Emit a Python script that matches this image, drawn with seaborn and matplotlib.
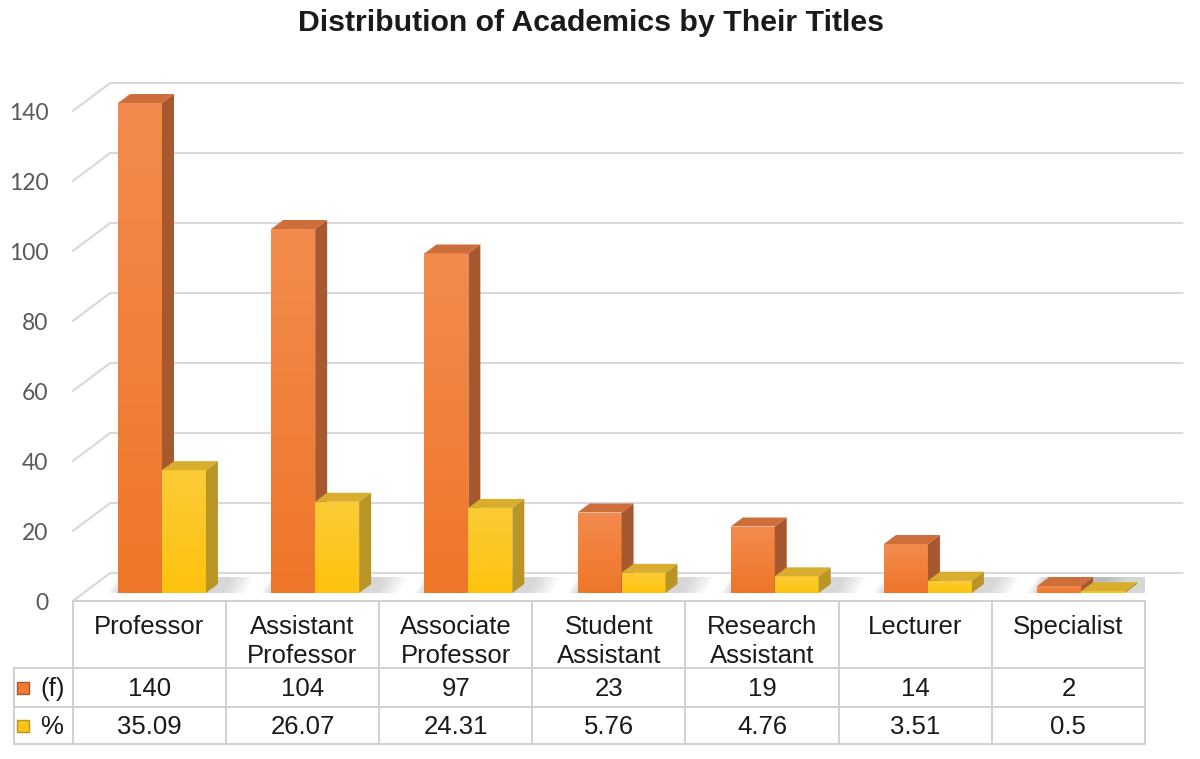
import numpy as np
import pandas as pd
import matplotlib
matplotlib.use("Agg")
import matplotlib.pyplot as plt
import seaborn as sns
from matplotlib.patches import Polygon, Rectangle
from matplotlib.lines import Line2D
from matplotlib.colors import to_rgb
from matplotlib.transforms import ScaledTranslation

# ---------------- data ----------------
titles = ["Professor", "Assistant\nProfessor", "Associate\nProfessor",
          "Student\nAssistant", "Research\nAssistant", "Lecturer", "Specialist"]
freq = [140, 104, 97, 23, 19, 14, 2]
pct = [35.09, 26.07, 24.31, 5.76, 4.76, 3.51, 0.5]
pct_labels = ["35.09", "26.07", "24.31", "5.76", "4.76", "3.51", "0.5"]
series = ["(f)", "%"]
yticks = [0, 20, 40, 60, 80, 100, 120, 140]
chart_title = "Distribution of Academics by Their Titles"

df = pd.DataFrame({
    "title": titles * 2,
    "value": freq + pct,
    "series": [series[0]] * len(titles) + [series[1]] * len(titles),
})

# ---------------- style ----------------
sns.set_theme(style="white")
plt.rcParams["font.family"] = ["Liberation Sans", "DejaVu Sans"]

W, H = 1200, 759
ORANGE = "#F07C34"
ORANGE_LIGHT = "#F38B4E"
ORANGE_DARK = "#EE7628"
ORANGE_SIDE = "#A8582E"
ORANGE_TOP = "#CD6E3B"
YELLOW = "#FCC416"
YELLOW_LIGHT = "#FCCB36"
YELLOW_DARK = "#FEC30E"
YELLOW_SIDE = "#B99526"
YELLOW_TOP = "#D9AE2E"
GRID = "#D9D9D9"
TABLE = "#D0D0D0"

fig = plt.figure(figsize=(W / 100, H / 100), dpi=100)
fig.patch.set_facecolor("white")

LEFT, RIGHT = 72.7, 1145.0
ZERO_Y, TOP_Y = 593.0, 68.0
ax = fig.add_axes([LEFT / W, (H - ZERO_Y) / H, (RIGHT - LEFT) / W, (ZERO_Y - TOP_Y) / H])
ax.set_facecolor("none")

sns.barplot(data=df, x="title", y="value", hue="series",
            palette=[ORANGE, YELLOW], width=0.574, gap=0, saturation=1,
            legend=False, ax=ax, linewidth=0)

shift = 12.7 / ((RIGHT - LEFT) / 7)
XL, XR = -0.5 - shift, 6.5 - shift


def set_limits():
    ax.set_xlim(XL, XR)
    ax.set_ylim(0, 150)


set_limits()
for s in ax.spines.values():
    s.set_visible(False)
ax.set_xticks([])
ax.set_xlabel("")
ax.set_ylabel("")
ax.set_yticks(yticks)
ax.tick_params(axis="y", length=0, pad=17.5, labelsize=16.5, labelcolor="#595959")
for lab in ax.get_yticklabels():
    lab.set_fontfamily(["Lato", "DejaVu Sans"])
    lab.set_transform(lab.get_transform() + ScaledTranslation(0, -0.09, fig.dpi_scale_trans))

inv = fig.transFigure.inverted()


def P(xd, yd, dx=0.0, dy=0.0):
    """data point -> figure fraction, with pixel offsets (dy positive = down)"""
    d = ax.transData.transform((xd, yd))
    return tuple(inv.transform((d[0] + dx, d[1] - dy)))


def F(x, y):
    return (x / W, 1 - y / H)


DX, DY = 37.5, 28.0  # back wall offset

# gridlines with 3D slant (behind the axes content)
for v in yticks:
    pts = [P(XL, v, 0, 8), P(XL, v, DX, 8 - DY), P(XR, v, DX, 8 - DY)]
    fig.add_artist(Line2D([p[0] for p in pts], [p[1] for p in pts],
                          color=GRID, lw=1.5, zorder=-1))

# 3D bar faces, gradients and shadows
n = len(titles)
bdx, bdy = 12.0, 9.0
patches = list(ax.patches)
for i, p in enumerate(patches):
    hue_i = i // n
    xb, wb, hb = p.get_x(), p.get_width(), p.get_height()
    base_z = 2 + hue_i * 2
    p.set_zorder(base_z)
    light = ORANGE_LIGHT if hue_i == 0 else YELLOW_LIGHT
    dark = ORANGE_DARK if hue_i == 0 else YELLOW_DARK
    side_c = ORANGE_SIDE if hue_i == 0 else YELLOW_SIDE
    top_c = ORANGE_TOP if hue_i == 0 else YELLOW_TOP
    # gentle vertical gradient on the front face (lighter at top)
    c1, c2 = np.array(to_rgb(light)), np.array(to_rgb(dark))
    t = np.linspace(0, 1, 64)[:, None]
    grad = (c1 * (1 - t) + c2 * t)[:, None, :]
    img = np.repeat(grad, 2, axis=1)
    im = ax.imshow(img, extent=[xb, xb + wb, 0, hb], aspect="auto",
                   origin="upper", zorder=base_z + 0.1, interpolation="bilinear")
    im.set_clip_path(p)
    side = Polygon([P(xb + wb, 0), P(xb + wb, hb), P(xb + wb, hb, bdx, -bdy),
                    P(xb + wb, 0, bdx, -bdy)], closed=True,
                   transform=fig.transFigure, facecolor=side_c, edgecolor="none",
                   zorder=base_z + 0.5)
    top = Polygon([P(xb, hb), P(xb + wb, hb), P(xb + wb, hb, bdx, -bdy),
                   P(xb, hb, bdx, -bdy)], closed=True,
                  transform=fig.transFigure, facecolor=top_c, edgecolor="none",
                  zorder=base_z + 0.5)
    ax.add_artist(side)
    ax.add_artist(top)
    # soft floor shadow behind/right of each bar
    for k in range(6):
        e = 3 + k * 4
        sh = Polygon([P(xb, 0, -e * 0.5, 2), P(xb + wb, 0, 14 + e, 2),
                      P(xb + wb, 0, 14 + e + 10, -16), P(xb, 0, 8 - e * 0.3, -16)],
                     closed=True, transform=fig.transFigure, facecolor="#7F7F7F",
                     alpha=0.055, edgecolor="none", zorder=1)
        ax.add_artist(sh)

set_limits()

# ---------------- title ----------------
fig.text(591 / W, 1 - 23 / H, chart_title, ha="center", va="center",
         fontsize=21.8, fontweight="bold", color="#1A1A1A")

# ---------------- data table ----------------
col_w = (RIGHT - LEFT) / n
LBL_L = 14.0
HDR_T, HDR_B, R1_B, R2_B = 601.0, 668.0, 706.5, 744.0


def hline(xa, xb_, y):
    fig.add_artist(Line2D([xa / W, xb_ / W], [1 - y / H, 1 - y / H], color=TABLE, lw=1.4))


def vline(x, ya, yb):
    fig.add_artist(Line2D([x / W, x / W], [1 - ya / H, 1 - yb / H], color=TABLE, lw=1.4))


hline(LEFT, RIGHT, HDR_T)
hline(LBL_L, RIGHT, HDR_B)
hline(LBL_L, RIGHT, R1_B)
hline(LBL_L, RIGHT, R2_B)
for j in range(n + 1):
    vline(LEFT + j * col_w, HDR_T, R2_B)
vline(LBL_L, HDR_B, R2_B)

TFS = 18.5
for j, t in enumerate(titles):
    cx = LEFT + (j + 0.5) * col_w
    for li, line in enumerate(t.split("\n")):
        fig.text(cx / W, 1 - (634 + li * 29) / H, line, ha="center", va="baseline",
                 fontsize=TFS, color="#1A1A1A")
    fig.text(cx / W, 1 - 696 / H, str(freq[j]), ha="center", va="baseline",
             fontsize=TFS, color="#1A1A1A")
    fig.text(cx / W, 1 - 734 / H, pct_labels[j], ha="center", va="baseline",
             fontsize=TFS, color="#1A1A1A")

# row labels with legend keys
for ri, (lab, col, side_c, yb) in enumerate([(series[0], ORANGE, ORANGE_SIDE, 696),
                                             (series[1], YELLOW, YELLOW_SIDE, 734)]):
    cy = yb - 8
    fig.add_artist(Rectangle(F(17, cy + 6), 12 / W, 12 / H, facecolor=col,
                             edgecolor=side_c, lw=1.0))
    fig.text(40 / W, 1 - yb / H, lab, ha="left", va="baseline", fontsize=TFS,
             color="#1A1A1A")

fig.savefig("out.png", dpi=100, facecolor="white")
